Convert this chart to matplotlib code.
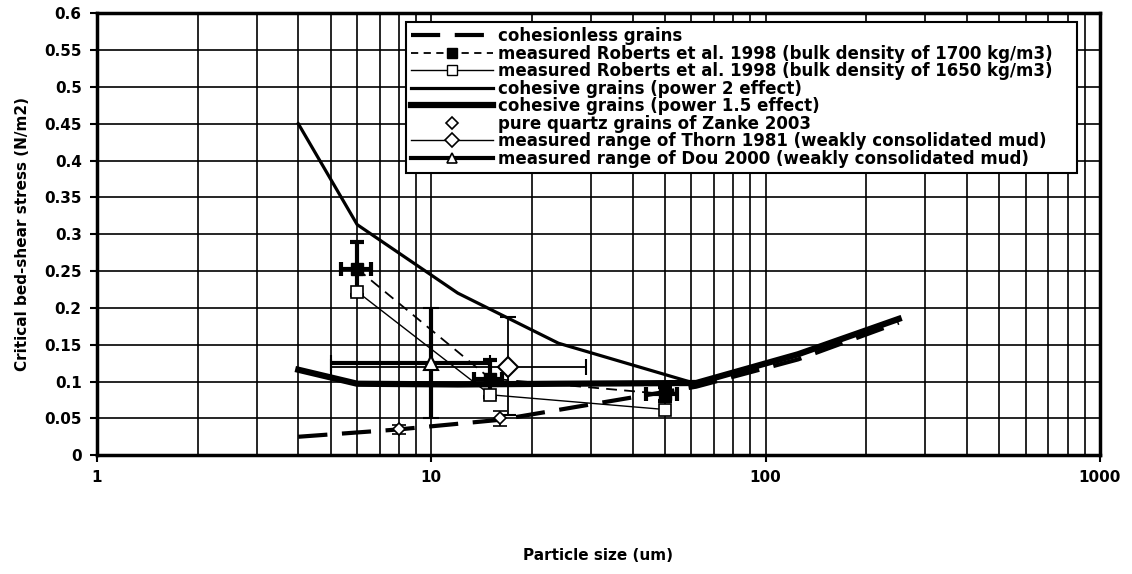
import matplotlib
matplotlib.use("Agg")
import matplotlib.pyplot as plt
from matplotlib.lines import Line2D
from matplotlib.ticker import FixedLocator, LogLocator, NullFormatter

plt.rcParams['font.family'] = ['DejaVu Sans']
plt.rcParams['font.weight'] = 'bold'

# === Datos ===
# cohesionless grains
cl_x = [4, 8, 16, 31, 62, 125, 250]
cl_y = [0.025, 0.035, 0.048, 0.07, 0.093, 0.13, 0.18]

# cohesive grains (power 2)
p2_x = [4, 6, 12, 24, 62, 125, 250]
p2_y = [0.45, 0.313, 0.22, 0.152, 0.097, 0.136, 0.185]

# cohesive grains (power 1.5)
p15_x = [4, 6, 12, 24, 62, 125, 250]
p15_y = [0.116, 0.097, 0.096, 0.097, 0.098, 0.137, 0.185]

# Roberts 1998, 1700 kg/m3
r1700_x = [6, 15, 50]
r1700_y = [0.253, 0.104, 0.083]
r1700_xlo = [5.35, 13.4, 43.8]
r1700_xhi = [6.6, 16.3, 54.3]
r1700_yerr = [0.036, 0.025, 0.01]

# Roberts 1998, 1650 kg/m3
r1650_x = [6, 15, 50]
r1650_y = [0.222, 0.082, 0.062]

# Zanke 2003
zk_x = [8, 16]
zk_y = [0.035, 0.05]
zk_yerr = [0.006, 0.01]

# Thorn 1981
th_x = [17]
th_y = [0.12]
th_xlo, th_xhi = [5.0], [29.0]
th_ylo, th_yhi = [0.055], [0.188]

# Dou 2000
dou_x = [10]
dou_y = [0.125]
dou_xlo, dou_xhi = [5.0], [15.0]
dou_ylo, dou_yhi = [0.05], [0.2]

yticks = [0, 0.05, 0.1, 0.15, 0.2, 0.25, 0.3, 0.35, 0.4, 0.45, 0.5, 0.55, 0.6]
ytick_labels = ["0", "0.05", "0.1", "0.15", "0.2", "0.25", "0.3", "0.35",
                "0.4", "0.45", "0.5", "0.55", "0.6"]
xticks = [1, 10, 100, 1000]
xtick_labels = ["1", "10", "100", "1000"]

labels = [
    "cohesionless grains",
    "measured Roberts et al. 1998 (bulk density of 1700 kg/m3)",
    "measured Roberts et al. 1998 (bulk density of 1650 kg/m3)",
    "cohesive grains (power 2 effect)",
    "cohesive grains (power 1.5 effect)",
    "pure quartz grains of Zanke 2003",
    "measured range of Thorn 1981 (weakly consolidated mud)",
    "measured range of Dou 2000 (weakly consolidated mud)",
]

# === Grafico ===
fig = plt.figure(figsize=(11.32, 5.74), dpi=100)
ax = fig.add_axes([0.0857, 0.207, 0.886, 0.770])
ax.set_xscale("log")
ax.set_xlim(1, 1000)
ax.set_ylim(0, 0.6)

ax.xaxis.set_major_locator(FixedLocator(xticks))
ax.set_xticklabels(xtick_labels)
ax.xaxis.set_minor_locator(LogLocator(base=10, subs=range(2, 10)))
ax.xaxis.set_minor_formatter(NullFormatter())
ax.yaxis.set_major_locator(FixedLocator(yticks))
ax.set_yticklabels(ytick_labels)
ax.grid(True, which="major", color="black", lw=1.2)
ax.grid(True, which="minor", axis="x", color="black", lw=1.2)
ax.set_axisbelow(True)
ax.tick_params(axis="both", which="major", direction="out", length=5, width=1.5,
               labelsize=11, pad=6)
ax.tick_params(axis="x", which="minor", length=0)
for s in ax.spines.values():
    s.set_linewidth(2.5)

ax.plot(cl_x, cl_y, color="black", lw=3, dashes=(7, 3.5))
ax.plot(p2_x, p2_y, color="black", lw=2.3)
ax.plot(p15_x, p15_y, color="black", lw=4.5)

ax.plot(r1700_x, r1700_y, color="black", lw=1.3, dashes=(6, 4))
ax.errorbar(r1700_x, r1700_y,
            xerr=[[x - lo for x, lo in zip(r1700_x, r1700_xlo)],
                  [hi - x for x, hi in zip(r1700_x, r1700_xhi)]],
            yerr=r1700_yerr, fmt="none", ecolor="black", elinewidth=3,
            capsize=5, capthick=3)
ax.plot(r1700_x, r1700_y, ls="none", marker="s", ms=8, color="black")

ax.plot(r1650_x, r1650_y, color="black", lw=1, marker="s", ms=8,
        mfc="white", mec="black", mew=1.2)

ax.errorbar(zk_x, zk_y, yerr=zk_yerr, fmt="D", ms=6, mfc="white", mec="black",
            mew=1.2, ecolor="black", elinewidth=1.2, capsize=5, capthick=1.2)

ax.errorbar(th_x, th_y,
            xerr=[[th_x[0] - th_xlo[0]], [th_xhi[0] - th_x[0]]],
            yerr=[[th_y[0] - th_ylo[0]], [th_yhi[0] - th_y[0]]],
            fmt="D", ms=10, mfc="white", mec="black", mew=1.5,
            ecolor="black", elinewidth=1.3, capsize=6, capthick=1.5)

ax.errorbar(dou_x, dou_y,
            xerr=[[dou_x[0] - dou_xlo[0]], [dou_xhi[0] - dou_x[0]]],
            yerr=[[dou_y[0] - dou_ylo[0]], [dou_yhi[0] - dou_y[0]]],
            fmt="^", ms=10, mfc="white", mec="black", mew=1.5,
            ecolor="black", elinewidth=3, capsize=6, capthick=3)

handles = [
    Line2D([], [], color="black", lw=3, dashes=(7, 3.5)),
    Line2D([], [], color="black", lw=1.3, dashes=(4, 3), marker="s", ms=7),
    Line2D([], [], color="black", lw=1, marker="s", ms=7, mfc="white"),
    Line2D([], [], color="black", lw=2.3),
    Line2D([], [], color="black", lw=4.5),
    Line2D([], [], ls="none", marker="D", ms=6, mfc="white", mec="black", mew=1.2),
    Line2D([], [], color="black", lw=1, marker="D", ms=7, mfc="white", mew=1.2),
    Line2D([], [], color="black", lw=3, marker="^", ms=7, mfc="white", mew=1.2),
]
leg = ax.legend(handles, labels, loc="upper left",
                bbox_to_anchor=(0.308, 0.5, 0.669, 0.48), mode="expand",
                borderaxespad=0, fontsize=12, handlelength=4.9, handletextpad=0.35,
                labelspacing=-0.03, borderpad=0.3, fancybox=False, framealpha=1,
                edgecolor="black", numpoints=1)
leg.get_frame().set_linewidth(1.5)

ax.set_ylabel("Critical bed-shear stress (N/m2)", fontsize=11, fontweight="bold",
              labelpad=10)
ax.set_xlabel("Particle size (um)", fontsize=11, fontweight="bold", labelpad=45)

fig.savefig("out.png", dpi=100)
